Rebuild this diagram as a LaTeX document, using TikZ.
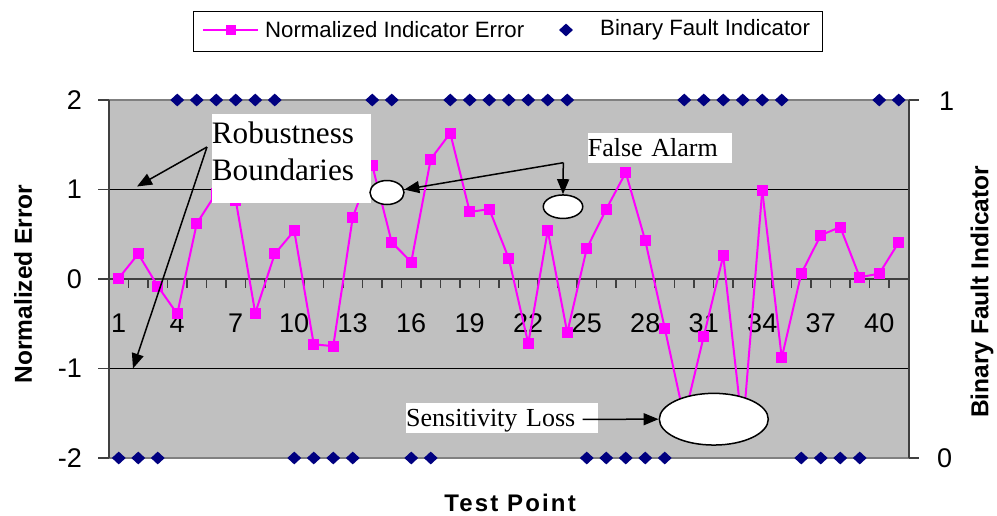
\documentclass[tikz,border=0pt]{standalone}
\usepackage{fontspec}
\setmainfont{Liberation Serif}
\setsansfont{Liberation Sans}
\usetikzlibrary{arrows.meta,shapes.geometric}
\definecolor{plotbg}{HTML}{C0C0C0}
\definecolor{errcol}{HTML}{FF00FF}
\definecolor{faultcol}{HTML}{000080}
\definecolor{framegray}{HTML}{808080}
\definecolor{axisdark}{HTML}{404040}
\begin{document}
\begin{tikzpicture}[x=1pt,y=-1pt,
  errline/.style={errcol, line width=2pt},
  errmark/.style={fill=errcol, minimum size=11pt, inner sep=0pt, outer sep=0pt},
  faultmark/.style={diamond, fill=faultcol, minimum width=14pt, minimum height=13pt, inner sep=0pt},
  callout/.style={fill=white, inner sep=0pt, align=left, anchor=north west},
  oval/.style={ellipse, draw=black, line width=1.5pt, fill=white, inner sep=0pt},
  pointer/.style={black, line width=1.5pt, -{Triangle[length=15pt,width=12pt]}},
  ticklbl/.style={font=\sffamily\fontsize{27}{30}\selectfont, inner sep=0pt},
  axtitle/.style={font=\sffamily\bfseries\fontsize{24.5}{28}\selectfont, inner sep=0pt},
  legtext/.style={font=\sffamily\fontsize{22.2}{26}\selectfont, inner sep=0pt, anchor=west},
]
\useasboundingbox (0,0) rectangle (997,515);
\fill[white] (0,0) rectangle (997,515);

% plot area and grid
\node[fill=plotbg, minimum width=800pt, minimum height=358pt, inner sep=0pt, anchor=north west] (plot) at (109,100) {};
\draw[black, line width=1pt] (109,189.5) -- (909,189.5);
\draw[black, line width=1pt] (109,368.5) -- (909,368.5);
\draw[framegray, line width=1.5pt] (109,100) -- (909,100);
\draw[framegray, line width=1.5pt] (109,458) -- (909,458);

% left axis
\draw[axisdark, line width=1.5pt] (109,100) -- (109,458);
\foreach \k in {0,...,4} \draw[axisdark, line width=1.2pt] (98,{100+89.5*\k}) -- (109,{100+89.5*\k});
\foreach \v [count=\n] in {-2,...,2}
  \node[ticklbl, anchor=east] (ylab\n) at (82,{279-89.5*(\v)}) {\v};

% right axis
\draw[axisdark, line width=1.5pt] (909,100) -- (909,458);
\draw[axisdark, line width=1.2pt] (909,100) -- (919,100);
\draw[axisdark, line width=1.2pt] (909,458) -- (919,458);
\node[ticklbl, anchor=west] (rlab1) at (939,101) {1};
\node[ticklbl, anchor=west] (rlab0) at (937,458) {0};

% category axis through zero
\draw[axisdark, line width=2pt] (109,279) -- (909,279);
\foreach \k in {0,...,41} \draw[axisdark, line width=1.2pt] ({109+19.5*\k},279) -- ++(0,9);
\foreach \i in {1,4,...,40}
  \node[ticklbl] (xlab\i) at ({99.25+19.5*\i},323) {\i};

% normalized indicator error series
\foreach \i/\v in {1/0.01, 2/0.28, 3/-0.08, 4/-0.39, 5/0.62, 6/0.96, 7/0.88, 8/-0.38,
  9/0.28, 10/0.54, 11/-0.73, 12/-0.75, 13/0.69, 14/1.27, 15/0.41, 16/0.19, 17/1.34,
  18/1.63, 19/0.75, 20/0.78, 21/0.23, 22/-0.72, 23/0.54, 24/-0.60, 25/0.34, 26/0.78,
  27/1.19, 28/0.43, 29/-0.55, 30/-1.55, 31/-0.64, 32/0.26, 33/-1.70, 34/0.99,
  35/-0.88, 36/0.06, 37/0.49, 38/0.58, 39/0.02, 40/0.06, 41/0.41}
  \coordinate (p\i) at ({99.25+19.5*\i},{279-89.5*(\v)});
\foreach \i [evaluate=\i as \j using {int(\i+1)}] in {1,...,40}
  \draw[errline] (p\i) -- (p\j);
\foreach \i in {1,...,41}
  \node[errmark] (m\i) at (p\i) {};

% binary fault indicator series
\foreach \i in {4,5,6,7,8,9,14,15,18,19,20,21,22,23,24,30,31,32,33,34,35,40,41}
  \node[faultmark] (fhi\i) at ({99.25+19.5*\i},100) {};
\foreach \i in {1,2,3,10,11,12,13,16,17,25,26,27,28,29,36,37,38,39}
  \node[faultmark] (flo\i) at ({99.25+19.5*\i},458) {};

% callouts
\node[callout, text width=159pt, font=\fontsize{31.2}{37.4}\selectfont] (robust) at (211.7,114)
  {\rule{0pt}{29.3pt}Robustness\\Boundaries\rule[-22pt]{0pt}{22pt}};
\node[callout, text width=144pt, font=\fontsize{26}{30}\selectfont] (alarm) at (587.7,132.3)
  {\rule{0pt}{24.4pt}False Alarm\rule[-6pt]{0pt}{6pt}};
\node[callout, text width=191.7pt, font=\fontsize{26}{30}\selectfont] (sens) at (406,402.7)
  {\rule{0pt}{24pt}Sensitivity Loss\rule[-5pt]{0pt}{5pt}};

\node[oval, minimum width=34pt, minimum height=24pt] (e1) at (387,192.5) {};
\node[oval, minimum width=39.5pt, minimum height=23.5pt] (e2) at (563,206.7) {};
\node[oval, minimum width=109pt, minimum height=51.7pt] (e3) at (713.8,419.2) {};

\coordinate (rb) at (207,147);
\coordinate (rbup) at (137,186.5);
\coordinate (rbdown) at (133,368.5);
\draw[pointer] (rb) -- (rbup);
\draw[pointer] (rb) -- (rbdown);

\coordinate (fa) at (563.3,162.7);
\draw[pointer] (fa) -- (e1);
\draw[pointer] (fa) -- (e2.north);

\coordinate (sl) at (582.7,419.3);
\draw[pointer] (sl) -- (e3.west);

% axis titles
\node[axtitle, rotate=90] (ytitle) at (23,284) {Normalized Error};
\node[axtitle, rotate=90] (y2title) at (982,292) {Binary Fault Indicator};
\node[axtitle, font=\sffamily\bfseries\fontsize{24}{28}\selectfont] (xtitle) at (510,503) {\addfontfeatures{LetterSpace=9}Test Point};

% legend
\node[draw=black, line width=1pt, fill=white, minimum width=629pt, minimum height=40pt, inner sep=0pt] (legend) at (507.5,31) {};
\coordinate (la) at (203,30);
\coordinate (lb) at (258,30);
\draw[errline] (la) -- (lb);
\node[errmark, minimum size=10pt] (legsq) at (230.5,30) {};
\node[legtext] (legerr) at (265,30) {Normalized Indicator Error};
\node[faultmark] (legdia) at (566,30) {};
\node[legtext] (legfault) at (600,30) {Binary Fault Indicator};
\end{tikzpicture}
\end{document}
